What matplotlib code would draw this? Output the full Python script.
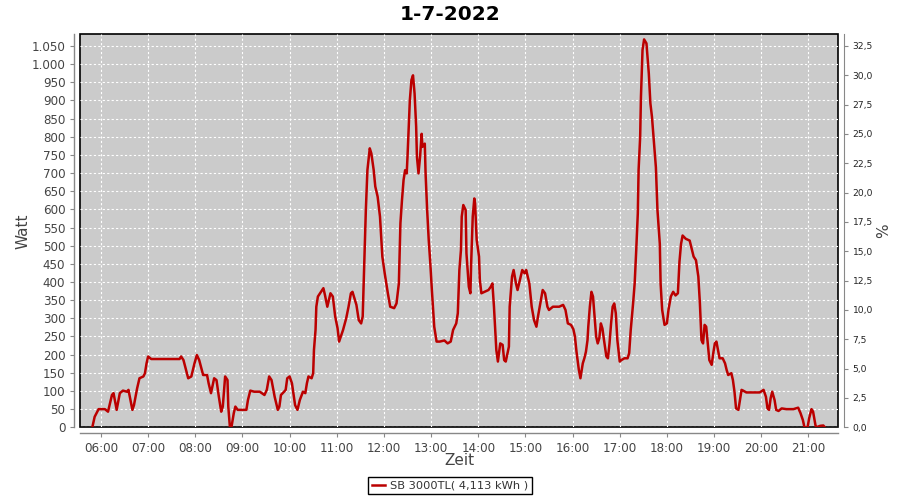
import matplotlib
matplotlib.use('Agg')
import matplotlib.pyplot as plt
from matplotlib.ticker import FuncFormatter, MultipleLocator

plt.rcParams['font.family'] = ['DejaVu Sans']

zeit = ['05:49', '05:52', '05:57', '06:05', '06:09', '06:14', '06:16', '06:20', '06:24', '06:28',
        '06:33', '06:35', '06:40', '06:42', '06:46', '06:49', '06:54', '06:56', '06:58', '07:00',
        '07:04', '07:40', '07:42', '07:45', '07:51', '07:55', '07:59', '08:02', '08:05', '08:10',
        '08:15', '08:17', '08:20', '08:24', '08:27', '08:30', '08:33', '08:35', '08:38', '08:41',
        '08:42', '08:44', '08:46', '08:49', '08:51', '08:54', '09:05', '09:07', '09:10', '09:15',
        '09:22', '09:28', '09:31', '09:34', '09:37', '09:41', '09:45', '09:47', '09:49', '09:53',
        '09:55', '09:57', '10:00', '10:03', '10:07', '10:10', '10:13', '10:17', '10:20', '10:22',
        '10:24', '10:28', '10:30', '10:31', '10:33', '10:34', '10:36', '10:40', '10:43', '10:45',
        '10:48', '10:52', '10:55', '10:58', '11:01', '11:03', '11:08', '11:12', '11:15', '11:18',
        '11:20', '11:25', '11:28', '11:31', '11:33', '11:35', '11:37', '11:39', '11:42', '11:44',
        '11:47', '11:49', '11:52', '11:55', '11:58', '12:01', '12:05', '12:08', '12:13', '12:16',
        '12:19', '12:21', '12:23', '12:25', '12:27', '12:29', '12:30', '12:32', '12:33', '12:35',
        '12:37', '12:39', '12:41', '12:42', '12:44', '12:46', '12:48', '12:49', '12:52', '12:53',
        '12:55', '12:57', '12:59', '13:01', '13:04', '13:07', '13:11', '13:17', '13:21', '13:25',
        '13:28', '13:32', '13:34', '13:36', '13:38', '13:39', '13:41', '13:44', '13:45', '13:48',
        '13:50', '13:51', '13:53', '13:55', '13:56', '13:58', '14:01', '14:02', '14:04', '14:08',
        '14:13', '14:16', '14:18', '14:20', '14:23', '14:25', '14:28', '14:31', '14:33', '14:35',
        '14:39', '14:40', '14:43', '14:45', '14:48', '14:50', '14:54', '14:56', '14:59', '15:01',
        '15:05', '15:08', '15:11', '15:14', '15:16', '15:19', '15:22', '15:25', '15:28', '15:30',
        '15:35', '15:43', '15:48', '15:51', '15:54', '15:58', '16:01', '16:03', '16:05', '16:08',
        '16:10', '16:13', '16:15', '16:17', '16:19', '16:20', '16:22', '16:24', '16:26', '16:28',
        '16:30', '16:32', '16:34', '16:36', '16:38', '16:40', '16:43', '16:45', '16:47', '16:49',
        '16:51', '16:53', '16:55', '16:57', '17:00', '17:02', '17:06', '17:10', '17:12', '17:14',
        '17:17', '17:19', '17:21', '17:23', '17:24', '17:26', '17:27', '17:29', '17:31', '17:34',
        '17:35', '17:37', '17:39', '17:41', '17:44', '17:46', '17:48', '17:51', '17:52', '17:54',
        '17:57', '18:00', '18:02', '18:05', '18:08', '18:11', '18:14', '18:16', '18:18', '18:20',
        '18:24', '18:29', '18:31', '18:34', '18:37', '18:40', '18:42', '18:44', '18:46', '18:48',
        '18:50', '18:52', '18:54', '18:57', '18:59', '19:01', '19:03', '19:05', '19:07', '19:11',
        '19:14', '19:16', '19:18', '19:22', '19:24', '19:26', '19:28', '19:31', '19:33', '19:35',
        '19:37', '19:41', '19:58', '20:03', '20:06', '20:08', '20:10', '20:12', '20:14', '20:17',
        '20:19', '20:22', '20:26', '20:32', '20:41', '20:47', '20:50', '20:53', '20:55', '20:59',
        '21:01', '21:04', '21:06', '21:09', '21:10', '21:15', '21:19', '21:21']
watt = [0, 29, 50, 50, 43, 89, 94, 48, 94, 101,
        98, 103, 48, 61, 107, 135, 140, 149, 176, 195,
        188, 188, 195, 185, 135, 140, 176, 199, 185, 144,
        144, 121, 94, 135, 130, 84, 43, 57, 140, 130,
        57, 2, 0, 39, 57, 48, 48, 75, 101, 98,
        98, 89, 103, 140, 130, 84, 48, 57, 89, 98,
        103, 135, 140, 121, 61, 48, 75, 98, 94, 121,
        140, 135, 149, 213, 268, 332, 360, 373, 383, 364,
        332, 369, 360, 305, 273, 236, 268, 300, 332, 369,
        373, 337, 295, 286, 305, 452, 598, 708, 768, 754,
        708, 663, 635, 580, 470, 424, 369, 332, 328, 341,
        396, 562, 626, 681, 708, 699, 745, 851, 901, 956,
        969, 919, 828, 745, 699, 745, 808, 772, 781, 699,
        598, 516, 452, 378, 277, 236, 236, 239, 231, 236,
        268, 286, 314, 433, 488, 580, 612, 598, 479, 387,
        369, 452, 580, 630, 616, 516, 470, 406, 369, 373,
        378, 387, 396, 332, 213, 181, 231, 227, 185, 181,
        222, 332, 415, 433, 396, 378, 415, 433, 424, 433,
        396, 332, 295, 277, 305, 341, 378, 369, 332, 323,
        332, 332, 337, 323, 286, 282, 270, 250, 208, 158,
        135, 176, 190, 208, 240, 277, 332, 373, 360, 305,
        250, 231, 245, 286, 272, 240, 195, 190, 231, 286,
        332, 341, 314, 240, 181, 185, 190, 190, 204, 268,
        341, 396, 488, 589, 708, 800, 910, 1039, 1068, 1057,
        1029, 974, 892, 855, 773, 716, 598, 505, 396, 323,
        282, 286, 323, 360, 373, 363, 369, 456, 505, 528,
        519, 514, 496, 470, 460, 415, 341, 240, 231, 282,
        277, 231, 185, 172, 204, 231, 236, 213, 190, 190,
        176, 158, 144, 149, 130, 98, 52, 48, 75, 103,
        101, 96, 96, 103, 84, 52, 48, 80, 98, 75,
        48, 45, 52, 50, 50, 54, 39, 20, 0, 0,
        25, 50, 43, 6, 0, 4, 5, 0]

stunden = ['06:00', '07:00', '08:00', '09:00', '10:00', '11:00', '12:00', '13:00',
           '14:00', '15:00', '16:00', '17:00', '18:00', '19:00', '20:00', '21:00']


def in_stunden(s):
    h, m = s.split(':')
    return int(h) + int(m) / 60.0


x = [in_stunden(t) for t in zeit]
tick_x = [in_stunden(t) for t in stunden]

grau = '#444444'
achse = '#888888'

fig = plt.figure(figsize=(9, 5), dpi=100)
ax = fig.add_axes([0.0889, 0.1454, 0.8422, 0.786])
ax.set_facecolor('#cbcbcb')
# schwarzer Rahmen um den Plotbereich
ax.patch.set_edgecolor('black')
ax.patch.set_linewidth(1.2)

line, = ax.plot(x, watt, color='#bb0000', linewidth=1.8)

ax.set_xlim(5.556, 21.628)
ax.set_ylim(0, 1082)
ax.yaxis.set_major_locator(MultipleLocator(50))
ax.yaxis.set_major_formatter(FuncFormatter(lambda v, p: f'{int(v):,}'.replace(',', '.')))
ax.set_xticks(tick_x)
ax.set_xticklabels(stunden)
ax.grid(True, color='white', linestyle=(0, (2, 2)), linewidth=0.8)
ax.set_axisbelow(True)

# Achsenlinien leicht abgesetzt, wie bei JFreeChart
ax.spines['top'].set_visible(False)
ax.spines['right'].set_visible(False)
for s in ['left', 'bottom']:
    ax.spines[s].set_position(('outward', 4))
    ax.spines[s].set_color(achse)
    ax.spines[s].set_linewidth(1)

ax.tick_params(axis='both', labelsize=8.6, colors=achse, labelcolor=grau, length=3, width=0.8)
ax.set_xlabel('Zeit', fontsize=11, color=grau, labelpad=-1)
ax.set_ylabel('Watt', fontsize=11, color=grau, labelpad=1)

ax2 = ax.twinx()
ax2.set_ylim(0, 1082 * 32.5 / 1050)
ax2.yaxis.set_major_locator(MultipleLocator(2.5))
ax2.yaxis.set_major_formatter(FuncFormatter(lambda v, p: f'{v:.1f}'.replace('.', ',')))
ax2.tick_params(axis='y', labelsize=6.6, colors=achse, labelcolor='#222222', length=3, width=0.8)
ax2.set_ylabel('%', fontsize=11, color=grau, labelpad=2.5)
for s in ['left', 'top', 'bottom']:
    ax2.spines[s].set_visible(False)
ax2.spines['right'].set_position(('outward', 4))
ax2.spines['right'].set_color(achse)

fig.suptitle('1-7-2022', x=0.5, y=0.99, fontsize=14.5, fontweight='bold')

leg = fig.legend([line], ['SB 3000TL( 4,113 kWh )'], loc='lower center',
                 bbox_to_anchor=(0.5, 0.0), fontsize=8.2, frameon=True,
                 fancybox=False, framealpha=1, edgecolor='black',
                 handlelength=1.2, handletextpad=0.4, borderpad=0.3)
leg.get_frame().set_linewidth(1)
for t in leg.get_texts():
    t.set_color('#333333')

fig.savefig('out.png', dpi=100)
